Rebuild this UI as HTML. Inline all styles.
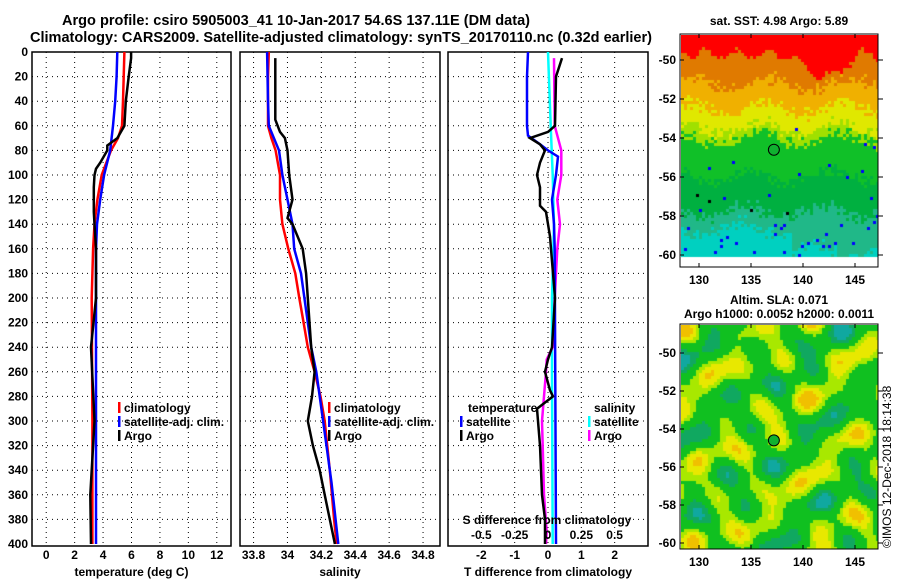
<!DOCTYPE html>
<html><head><meta charset="utf-8"><style>
body{margin:0;background:#fff;width:900px;height:580px;overflow:hidden;position:relative;font-family:"Liberation Sans",sans-serif}
svg{position:absolute;left:0;top:0}
canvas{position:absolute}
text{font-family:"Liberation Sans",sans-serif;font-weight:bold;font-size:12px;fill:#000}
</style></head><body>
<canvas id="sst" width="197" height="232" style="left:681px;top:35px"></canvas>
<canvas id="sla" width="197" height="224" style="left:681px;top:325px"></canvas>
<svg id="s" width="900" height="580"></svg>
<script>
// ---- data ----
const tDepth=[0,5,20,40,60,70,76,80,90,95,100,110,130,140,160,200,240,300,360,400];
const tArgo=[5.97,5.97,5.8,5.6,5.5,5.0,4.3,4.3,3.8,3.5,3.4,3.35,3.35,3.4,3.5,3.5,3.15,3.4,3.1,3.15];
const cDepth=[0,20,40,60,70,80,100,120,140,160,200,300,400];
const tClim=[5.5,5.45,5.4,5.33,5.05,4.56,3.9,3.6,3.4,3.3,3.2,3.25,3.25];
const tSat=[5.0,4.95,4.85,4.7,4.6,4.5,4.07,3.8,3.57,3.5,3.5,3.5,3.5];
const sDepth=[5,55,65,70,80,100,120,135,140,160,180,200,240,260,280,300,320,340,360,380,400];
const sArgo=[33.928,33.928,33.956,33.985,34.0,34.01,34.03,34.0,34.03,34.09,34.11,34.12,34.14,34.16,34.145,34.12,34.15,34.19,34.22,34.25,34.28];
const scDepth=[0,20,40,60,70,80,100,120,140,160,180,200,220,240,260,280,300,340,380,400];
const sClim=[33.89,33.885,33.885,33.885,33.905,33.93,33.956,33.956,33.97,34.005,34.046,34.07,34.095,34.12,34.16,34.195,34.22,34.25,34.275,34.29];
const sbDepth=[0,40,60,80,100,120,140,160,180,200,240,260,300,350,400];
const sSat=[33.88,33.885,33.89,33.95,33.97,34.0,34.03,34.04,34.08,34.1,34.14,34.17,34.21,34.26,34.30];
const dtDepth=[0,20,60,68,75,80,85,100,120,140,160,400];
const dtSat=[-0.6,-0.63,-0.63,-0.6,-0.24,0,0.3,0.24,0.12,0.18,0.2,0.24];
const daDepth=[5,20,60,65,70,75,80,90,100,110,125,130,140,150,200,240,250,260,275,280,290,320,360,380,400];
const dtArgo=[0.42,0.24,0.21,0,-0.54,-0.24,-0.09,-0.24,-0.33,-0.24,-0.24,-0.06,0,0.06,0.21,0.12,0,-0.09,0.06,0.15,-0.33,-0.24,-0.18,-0.09,-0.09];
const dsDepth=[0,60,100,140,200,260,400];
const dsSat=[0,0.02,0.035,0.045,0.03,0.03,0.035];
const dmDepth=[5,60,70,80,100,120,140,160,200,240,250,260,280,300,320,360,390,400];
const dsArgo=[0.045,0.05,0.075,0.1,0.1,0.07,0.09,0.07,0.05,0.035,-0.01,-0.015,-0.03,-0.045,-0.04,-0.03,-0.01,-0.015];
const depthTicks=[0,20,40,60,80,100,120,140,160,180,200,220,240,260,280,300,320,340,360,380,400];
const tTicks=[0,2,4,6,8,10,12];
const sTicks=[33.8,34,34.2,34.4,34.6,34.8];
const dTicks=[-2,-1,0,1,2];
const dsTicks=[-0.5,-0.25,0,0.25,0.5];
const latTicks=[-50,-52,-54,-56,-58,-60];
const lonTicks=[130,135,140,145];
// ---- scales ----
const Y0=52,Y1=544,YB=546;
const y=d=>Y0+d*(Y1-Y0)/400;
const xT=v=>32+(v+1)*(231-32)/14;
const xS=v=>240+(v-33.72)*200/1.18;
const xD=v=>548+v*33.33;
const xDS=v=>548+v*133.3;
const svg=document.getElementById('s');
const NS='http://www.w3.org/2000/svg';
function mk(t,a,p){const e=document.createElementNS(NS,t);for(const k in a)e.setAttribute(k,a[k]);(p||svg).appendChild(e);return e;}
function txt(x,yy,s,anchor,fill,size){const e=mk('text',{x:x,y:yy,'text-anchor':anchor||'middle'});if(fill)e.style.fill=fill;if(size)e.style.fontSize=size+'px';e.textContent=s;return e;}
// titles
let e=txt(62,25,'Argo profile: csiro 5905003_41 10-Jan-2017 54.6S 137.11E (DM data)','start',null,14.5);
e.setAttribute('textLength','468');e.setAttribute('lengthAdjust','spacingAndGlyphs');

e=txt(30,42,'Climatology: CARS2009. Satellite-adjusted climatology: synTS_20170110.nc (0.32d earlier)','start',null,14.5);
e.setAttribute('textLength','622');e.setAttribute('lengthAdjust','spacingAndGlyphs');

// depth labels
depthTicks.forEach(d=>{const t=txt(28,y(d)+4,String(d),'end');});
function panel(x0,x1,name,vt,xf,labels,xtitle){
  const g=mk('g',{});
  depthTicks.forEach(d=>{if(d>0&&d<400)mk('line',{x1:x0,x2:x1,y1:y(d),y2:y(d),stroke:'#000','stroke-dasharray':'1,4'},g);});
  vt.forEach(v=>{const xx=xf(v);if(xx>x0+2&&xx<x1-2)mk('line',{x1:xx,x2:xx,y1:Y0,y2:YB,stroke:'#000','stroke-dasharray':'1,4'},g);});
  mk('rect',{x:x0,y:Y0,width:x1-x0,height:YB-Y0,fill:'none',stroke:'#000','stroke-width':1.5},g);
  if(labels)vt.forEach((v,i)=>{const t=txt(xf(v),559,labels[i]);});
  const t=txt((x0+x1)/2,576,xtitle);
  return g;
}
function line(g,ds,vs,xf,col,w,name){const p=ds.map((d,i)=>xf(vs[i]).toFixed(1)+','+y(d).toFixed(1)).join(' ');const l=mk('polyline',{points:p,fill:'none',stroke:col,'stroke-width':w},g);}
const g1=panel(32,231,'temperature-panel',tTicks,xT,tTicks.map(String),'temperature (deg C)');
line(g1,cDepth,tClim,xT,'#f00',2.5,'temp-climatology-line');
line(g1,cDepth,tSat,xT,'#00f',2.5,'temp-satellite-line');
line(g1,tDepth,tArgo,xT,'#000',2.5,'temp-argo-line');
const g2=panel(240,440,'salinity-panel',sTicks,xS,['33.8','34','34.2','34.4','34.6','34.8'],'salinity');
line(g2,scDepth,sClim,xS,'#f00',2.5,'sal-climatology-line');
line(g2,sbDepth,sSat,xS,'#00f',2.5,'sal-satellite-line');
line(g2,sDepth,sArgo,xS,'#000',2.5,'sal-argo-line');
const g3=panel(448,648,'difference-panel',dTicks,xD,dTicks.map(String),'T difference from climatology');
line(g3,dsDepth,dsSat,xDS,'#0ff',2.5,'sdiff-satellite-line');
line(g3,dmDepth,dsArgo,xDS,'#f0f',2.5,'sdiff-argo-line');
line(g3,dtDepth,dtSat,xD,'#00f',2.5,'tdiff-satellite-line');
line(g3,daDepth,dtArgo,xD,'#000',2.5,'tdiff-argo-line');
e=txt(547,524,'S difference from climatology');
dsTicks.forEach(v=>{const t=txt(xDS(v),539,String(v));});
// legends
function leg(x,yy,col,label,name){const g=mk('g',{});mk('rect',{x:x,y:yy-10,width:2.5,height:11,fill:col},g);const t=mk('text',{x:x+6,y:yy},g);t.textContent=label;}
leg(118,412,'#f00','climatology','legend-climatology');
leg(118,426,'#00f','satellite-adj. clim.','legend-satellite-adj');
leg(118,440,'#000','Argo','legend-argo');
leg(328,412,'#f00','climatology','legend-sal-climatology');
leg(328,426,'#00f','satellite-adj. clim.','legend-sal-satellite-adj');
leg(328,440,'#000','Argo','legend-sal-argo');
e=txt(468,412,'temperature','start');
leg(460,426,'#00f','satellite','legend-tdiff-satellite');
leg(460,440,'#000','Argo','legend-tdiff-argo');
e=txt(594,412,'salinity','start');
leg(588,426,'#0ff','satellite','legend-sdiff-satellite');
leg(588,440,'#f0f','Argo','legend-sdiff-argo');
// map axes
function mapAxes(top,bot,latY,name,title1,title2){
  const g=mk('g',{});
  mk('rect',{x:680,y:top,width:198,height:bot-top,fill:'none',stroke:'#000','stroke-width':1},g);
  latTicks.forEach(l=>{const yy=latY(l);mk('line',{x1:878,x2:883,y1:yy,y2:yy,stroke:'#000'},g);mk('line',{x1:680,x2:684,y1:yy,y2:yy,stroke:'#000'},g);const t=mk('text',{x:676,y:yy+4,'text-anchor':'end'},g);t.textContent=String(l);});
  lonTicks.forEach(l=>{const xx=699+(l-130)*10.4;mk('line',{x1:xx,x2:xx,y1:bot,y2:bot-4,stroke:'#000'},g);mk('line',{x1:xx,x2:xx,y1:top,y2:top+4,stroke:'#000'},g);const t=mk('text',{x:xx,y:bot+17,'text-anchor':'middle'},g);t.textContent=String(l);});
  const t1=mk('text',{x:779,y:top-(title2?20:9),'text-anchor':'middle'},g);t1.textContent=title1;
  if(title2){const t2=mk('text',{x:779,y:top-6,'text-anchor':'middle'},g);t2.textContent=title2;}
  const cy=latY(-54.6),cx=699+(137.2-130)*10.4;
  const c=mk('circle',{cx:cx,cy:cy,r:5.5,fill:'#10b030',stroke:'#000'},g);
}
mapAxes(34,267,l=>60+(-50-l)*19.5,'sst-map-axes','sat. SST: 4.98 Argo: 5.89');
mapAxes(324,549,l=>353+(-50-l)*19,'sla-map-axes','Altim. SLA: 0.071','Argo h1000: 0.0052 h2000: 0.0011');
e=mk('text',{x:0,y:0,transform:'translate(891,548) rotate(-90)'});e.style.fontWeight='normal';e.style.fontSize='12px';e.textContent='©IMOS 12-Dec-2018 18:14:38';

// maps (image texture)
function h(a,b){const s=Math.sin(a*127.1+b*311.7)*43758.5453;return s-Math.floor(s);}
(function(){const c=document.getElementById('sst').getContext('2d');c.fillStyle='#fff';c.fillRect(0,0,197,232);
for(let j=0;j<75;j++)for(let i=0;i<66;i++){const yy=j*3;if(yy>=222)continue;const x=i*3;
 const n=(h(i,j)-0.5)*14+6*Math.sin(x*0.08+j*0.05);
 const redB=18+(x>110&&x<175?22*Math.sin((x-110)/65*Math.PI):0)+4*Math.sin(x*0.2);
 const p=yy+n;let col;
 if(yy+ (h(j,i)-0.5)*6<redB)col='#ff0000';
 else if(p<48)col='#e07a00';
 else if(p<72)col='#f0b000';
 else if(p<92)col='#e0e800';
 else if(p<102)col='#a0e000';
 else if(p<140)col='#10c028';
 else if(p<175)col='#00b040';
 else if(p<192+(x>110?22:0))col='#20b888';
 else col='#00d0c0';
 const r=h(i*3,j*7);if(r>0.99&&yy>90)col=(r>0.996&&yy>150)?'#000':'#0000ff';
 if(yy>185&&r>0.975)col='#0000ff';
 c.fillStyle=col;c.fillRect(x,yy,3,3);}})();
(function(){const c=document.getElementById('sla').getContext('2d');
for(let j=0;j<75;j++)for(let i=0;i<66;i++){const x=i*0.33,yy=j*0.33;
 let v=Math.sin(x*0.9+1)*Math.cos(yy*0.8)+0.8*Math.sin(x*0.5+yy*0.7+2)+0.6*Math.cos(x*1.3-yy*0.6)+0.5*Math.sin(yy*1.4+x*0.2);
 let col=v>1.7?'#f0c000':v>1.0?'#e8e800':v>0.3?'#a8e800':v>-1.1?'#10c020':v>-1.8?'#10a860':'#10a8a0';
 c.fillStyle=col;c.fillRect(i*3,j*3,3,3);}})();
</script>
</body></html>
